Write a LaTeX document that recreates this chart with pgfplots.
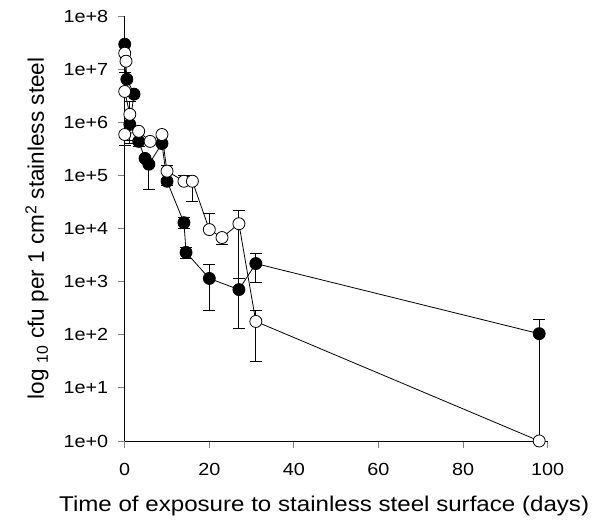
\documentclass[border=0pt]{standalone}
\usepackage{fontspec}
\setmainfont{Liberation Sans}
\newfontfamily\wide{Liberation Sans}[FakeStretch=1.13]
\usepackage{pgfplots}
\usepackage{pgfplotstable}
\pgfplotsset{compat=1.18}

% log10 cfu, error bars in log10 units
\pgfplotstableread{
x y ep em
0 7.47 0 0
0.5 6.81 0 0
2.2 6.53 0 0
1.2 5.96 0 0.35
3.3 5.64 0 0.10
4.8 5.32 0 0
5.7 5.21 0 0.47
8.8 5.60 0 0
10 4.89 0 0.08
14 4.11 0.10 0.10
14.5 3.55 0.10 0.12
20 3.06 0.26 0.61
27 2.85 0.21 0.74
31 3.34 0.19 0.36
98 2.02 0.26 2.02
}\filled

\pgfplotstableread{
x y ep em
0 7.30 0 0
0.3 7.15 0 0
0 6.58 0.35 0
1.2 6.15 0.25 0.50
0 5.77 0 0.20
3.3 5.83 0 0
6 5.64 0 0
8.8 5.77 0 0
10 5.08 0.10 0
14 4.89 0.10 0
16 4.89 0 0.38
20 3.98 0.30 0
23 3.83 0 0.13
27 4.09 0.25 1.98
31 2.25 0.21 0.76
98 0 0 0
}\open

\begin{document}
\begin{tikzpicture}
\begin{axis}[
    scale only axis,
    width=422pt, height=424pt,
    xmin=0, xmax=100, ymin=0, ymax=8,
    axis x line*=bottom, axis y line*=left,
    axis line style={line width=0.9pt},
    tick align=outside,
    major tick length=7pt,
    tick style={line width=0.9pt},
    xtick={0,20,...,100},
    ytick={0,1,...,8},
    yticklabels={1e+0,1e+1,1e+2,1e+3,1e+4,1e+5,1e+6,1e+7,1e+8},
    /pgf/number format/assume math mode=true,
    tick label style={font=\wide\fontsize{17.5}{20}\selectfont},
    xticklabel style={yshift=-12pt},
    yticklabel style={xshift=-6pt},
    xlabel={Time of exposure to stainless steel surface (days)},
    xlabel style={font=\wide\fontsize{21.3}{24}\selectfont, xshift=-12pt, yshift=-13pt},
    ylabel={log \textsubscript{10} cfu per 1 cm\textsuperscript{2} stainless steel},
    ylabel style={font=\fontsize{22.5}{24}\selectfont},
    ylabel shift=8pt,
    clip=false,
    every axis plot/.append style={black, line width=0.8pt},
    error bars/error bar style={black, line width=0.9pt},
    error bars/error mark options={rotate=90, mark size=6pt, black, line width=0.9pt},
]
\addplot[mark=*, mark size=6pt, mark options={fill=black},
    error bars/.cd, y dir=both, y explicit]
    table[x=x, y=y, y error plus=ep, y error minus=em] {\filled};
\addplot[mark=*, mark size=6pt, mark options={fill=white},
    error bars/.cd, y dir=both, y explicit]
    table[x=x, y=y, y error plus=ep, y error minus=em] {\open};
\end{axis}
\path ([xshift=-22pt]current bounding box.south west)
      ([xshift=8.5pt,yshift=6.5pt]current bounding box.north east);
\end{tikzpicture}
\end{document}
